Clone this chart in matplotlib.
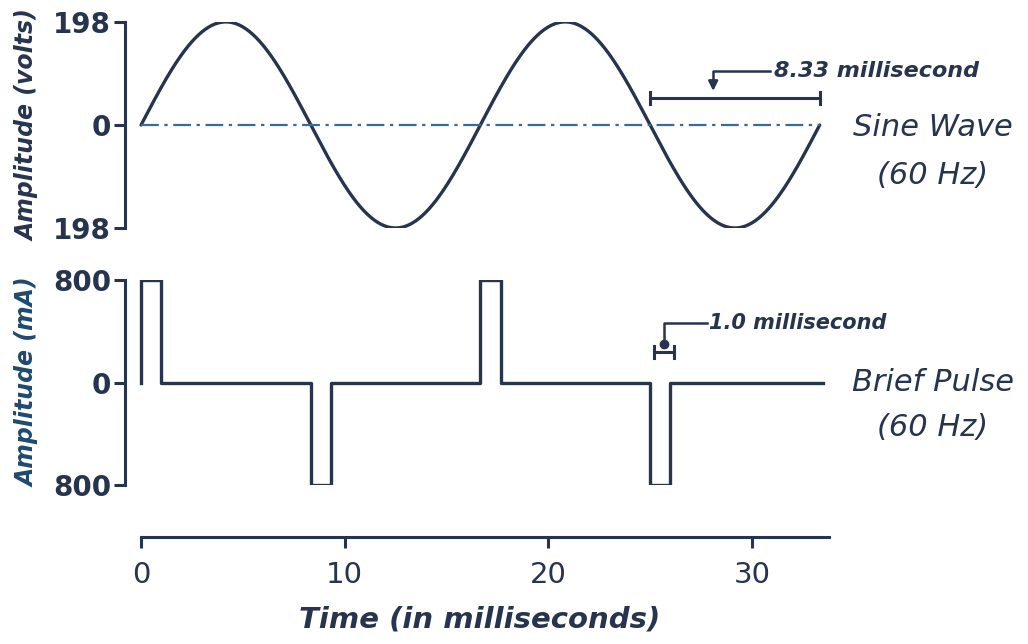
import numpy as np
import matplotlib
matplotlib.use("Agg")
import matplotlib.pyplot as plt

# sine wave (60 Hz, 198 V peak) drawn over two cycles
sine_amp = 198
sine_freq_hz = 60
sine_end_ms = 33.33

# brief pulse train: start time (ms), amplitude (mA), width 1.0 ms
pulse_starts = [0.0, 8.33, 16.67, 25.0]
pulse_amps = [800, -800, 800, -800]
pulse_width = 1.0
pulse_end_ms = 33.5

time_ticks = [0, 10, 20, 30]
volt_ticks = [-198, 0, 198]
volt_labels = ["198", "0", "198"]
ma_ticks = [-800, 0, 800]
ma_labels = ["800", "0", "800"]

ink = "#26344d"
blue = "#1f4a6e"

fig = plt.figure(figsize=(10.28, 6.44), dpi=100)
ax1 = fig.add_axes([0.1216, 0.646, 0.689, 0.320])
ax2 = fig.add_axes([0.1216, 0.247, 0.689, 0.318])
ax3 = fig.add_axes([0.1216, 0.166, 0.689, 0.001])

for ax in (ax1, ax2, ax3):
    ax.set_xlim(-0.79, 34)
    for s in ax.spines.values():
        s.set_visible(False)
    ax.set_facecolor("none")

# top: sine
t = np.linspace(0, sine_end_ms, 600)
v = sine_amp * np.sin(2 * np.pi * sine_freq_hz * t / 1000)
ax1.plot(t, v, color=ink, lw=2.4, solid_capstyle="round")
ax1.plot([0, sine_end_ms], [0, 0], color="#3d6a94", lw=1.6, ls=(0, (8, 2.5, 1.5, 2.5)))
ax1.set_ylim(-198, 198)
ax1.spines["left"].set_visible(True)
ax1.spines["left"].set_color(ink)
ax1.spines["left"].set_linewidth(2.2)
ax1.set_yticks(volt_ticks, volt_labels)
ax1.set_xticks([])
ax1.tick_params(axis="y", length=8, width=2.2, color=ink, labelcolor=ink, labelsize=20, pad=2)
for lb in ax1.get_yticklabels():
    lb.set_fontweight("bold")
ax1.set_ylabel("Amplitude (volts)", fontsize=17, fontweight="bold", style="italic", color=ink, labelpad=10)

# 8.33 ms bracket
ax1.plot([25.0, 33.33], [52, 52], color=ink, lw=2.2)
ax1.plot([25.0, 25.0], [40, 64], color=ink, lw=2.2)
ax1.plot([33.33, 33.33], [40, 64], color=ink, lw=2.2)
ax1.plot([30.9, 28.1, 28.1], [104, 104, 80], color=ink, lw=1.8)
ax1.annotate("", xy=(28.1, 60), xytext=(28.1, 82),
             arrowprops=dict(arrowstyle="-|>", color=ink, lw=1.8, mutation_scale=14))
ax1.text(31.1, 104, "8.33 millisecond", fontsize=16, fontweight="bold", style="italic",
         color=ink, va="center", ha="left")
ax1.text(38.9, -5, "Sine Wave", fontsize=22, style="italic", color=ink, ha="center", va="center")
ax1.text(38.9, -98, "(60 Hz)", fontsize=22, style="italic", color=ink, ha="center", va="center")

# middle: pulses
px, py = [0.0], [0.0]
for s, a in zip(pulse_starts, pulse_amps):
    px += [s, s, s + pulse_width, s + pulse_width]
    py += [0, a, a, 0]
px.append(pulse_end_ms)
py.append(0)
ax2.plot(px, py, color=ink, lw=2.4)
ax2.set_ylim(-800, 800)
ax2.spines["left"].set_visible(True)
ax2.spines["left"].set_color(ink)
ax2.spines["left"].set_linewidth(2.2)
ax2.set_yticks(ma_ticks, ma_labels)
ax2.set_xticks([])
ax2.tick_params(axis="y", length=8, width=2.2, color=ink, labelcolor=ink, labelsize=20, pad=2)
for lb in ax2.get_yticklabels():
    lb.set_fontweight("bold")
ax2.set_ylabel("Amplitude (mA)", fontsize=17, fontweight="bold", style="italic", color=blue, labelpad=10)

# 1.0 ms bracket
ax2.plot([25.2, 26.2], [240, 240], color=ink, lw=2.2)
ax2.plot([25.2, 25.2], [195, 285], color=ink, lw=2.2)
ax2.plot([26.2, 26.2], [195, 285], color=ink, lw=2.2)
ax2.plot([27.8, 25.7, 25.7], [465, 465, 300], color=ink, lw=1.8)
ax2.plot([25.7], [300], marker="o", ms=6, color=ink)
ax2.text(27.9, 465, "1.0 millisecond", fontsize=15, fontweight="bold", style="italic",
         color=ink, va="center", ha="left")
ax2.text(38.9, 0, "Brief Pulse", fontsize=22, style="italic", color=ink, ha="center", va="center")
ax2.text(38.9, -350, "(60 Hz)", fontsize=22, style="italic", color=ink, ha="center", va="center")

# bottom: time axis
ax3.set_yticks([])
ax3.spines["bottom"].set_visible(True)
ax3.spines["bottom"].set_color(ink)
ax3.spines["bottom"].set_linewidth(2.2)
ax3.spines["bottom"].set_bounds(0, 33.8)
ax3.set_xticks(time_ticks)
ax3.tick_params(axis="x", length=8, width=2.2, color=ink, labelcolor=ink, labelsize=21, pad=9)
ax3.set_xlabel("Time (in milliseconds)", fontsize=21, fontweight="bold", style="italic", color=ink, labelpad=12)

fig.savefig("out.png", dpi=100)
